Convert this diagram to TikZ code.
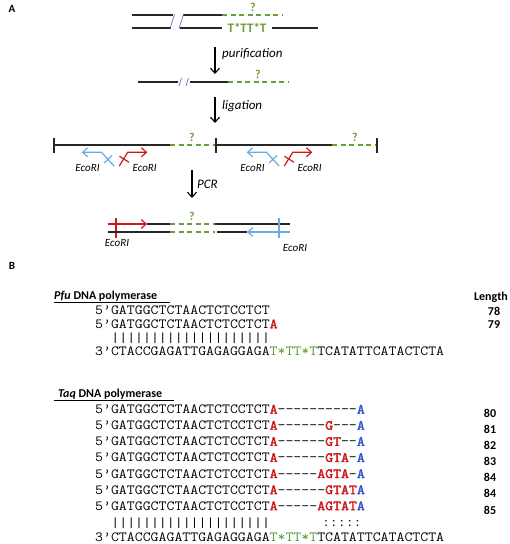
\documentclass[tikz,border=0pt]{standalone}
\usepackage{fontspec}
\setmainfont{Carlito}
\setmonofont{Latin Modern Mono}[FakeStretch=1.1, BoldFont={Latin Modern Mono}, BoldFeatures={FakeBold=2.5}]
\usetikzlibrary{arrows.meta}
\definecolor{qgreen}{HTML}{6A9E3A}
\definecolor{sgreen}{HTML}{4E9A2E}
\definecolor{pred}{HTML}{D01818}
\definecolor{lblue}{HTML}{6AAAE6}
\definecolor{dblue}{HTML}{2F55C8}
\definecolor{brk}{HTML}{5577BB}
\newcommand{\seqR}[1]{\textcolor{pred}{\bfseries #1}}
\newcommand{\seqB}[1]{\textcolor{dblue}{\bfseries #1}}
\newcommand{\seqG}[1]{\textcolor{sgreen}{#1}}
\tikzset{
 strand/.style={line width=1.3pt, draw=black!85},
 unk/.style={line width=1.3pt, draw=qgreen, dash pattern=on 5pt off 3.5pt},
 brkline/.style={line width=0.7pt, draw=brk},
 steparrow/.style={line width=1.1pt, -{Straight Barb[length=5pt,width=9pt]}},
 redprimer/.style={line width=1.2pt, draw=pred},
 blueprimer/.style={line width=1.2pt, draw=lblue},
 primertip/.style={-{Straight Barb[length=5pt,width=9pt]}},
 endtick/.style={line width=1.3pt, draw=black!85},
 steplab/.style={font=\fontsize{13}{13}\selectfont\itshape, anchor=west, inner sep=0pt},
 qm/.style={font=\fontsize{12}{12}\selectfont\bfseries, text=qgreen, inner sep=0pt},
 tts/.style={font=\fontsize{13}{13}\selectfont\bfseries, text=qgreen, inner sep=0pt},
 eco/.style={font=\fontsize{11}{11}\selectfont\itshape, inner sep=0pt},
 seqrow/.style={font=\fontsize{14}{14}\selectfont\ttfamily, anchor=base west, inner sep=0pt},
 num/.style={font=\fontsize{12}{12}\selectfont\bfseries, inner sep=0pt},
 panel/.style={font=\fontsize{11}{11}\selectfont\bfseries, inner sep=0pt},
 titletext/.style={font=\fontsize{12}{12}\selectfont\bfseries, anchor=west, inner sep=0pt},
}
\begin{document}
\begin{tikzpicture}[x=1pt,y=-1pt]
\fill[white] (0,0) rectangle (510,544);
\useasboundingbox (0,0) rectangle (510,544);

\node[panel] (pA) at (12,9) {A};
\node[panel] (pB) at (12,266) {B};

% ---------- step 1: double strand
\coordinate (t1a) at (132,15); \coordinate (t1b) at (173,15);
\coordinate (t1c) at (183,15); \coordinate (t1d) at (222,15);
\coordinate (t1e) at (282,15);
\coordinate (b1a) at (132,28); \coordinate (b1b) at (171,28);
\coordinate (b1c) at (180,28); \coordinate (b1d) at (222,28);
\coordinate (b1e) at (272,28); \coordinate (b1f) at (318,28);
\draw[strand] (t1a)--(t1b) (t1c)--(t1d) (b1a)--(b1b) (b1c)--(b1d) (b1e)--(b1f);
\draw[unk] (t1d)--(t1e);
\coordinate (s1a) at (170,28.5); \coordinate (s1b) at (174.5,14.5);
\coordinate (s2a) at (179,28.5); \coordinate (s2b) at (183.5,14.5);
\draw[brkline] (s1a)--(s1b) (s2a)--(s2b);
\node[qm] (q1) at (253,7) {?};
\node[tts] (tt1) at (247,28) {T*TT*T};

% purification arrow
\coordinate (a1s) at (215,47); \coordinate (a1e) at (215,74);
\draw[steparrow] (a1s)--(a1e);
\node[steplab] (l1) at (222,54) {purification};

% ---------- step 2: single strand
\coordinate (u2a) at (138,82); \coordinate (u2b) at (178,82);
\coordinate (u2c) at (190,82); \coordinate (u2d) at (228,82);
\coordinate (u2e) at (288,82);
\draw[strand] (u2a)--(u2b) (u2c)--(u2d);
\draw[unk] (u2d)--(u2e);
\coordinate (s3a) at (179,86); \coordinate (s3b) at (181.5,78);
\coordinate (s4a) at (186,86); \coordinate (s4b) at (188.5,78);
\draw[brkline] (s3a)--(s3b) (s4a)--(s4b);
\node[qm] (q2) at (258,74.5) {?};

% ligation arrow
\coordinate (a2s) at (215,97); \coordinate (a2e) at (215,123);
\draw[steparrow] (a2s)--(a2e);
\node[steplab] (l2) at (222,106) {ligation};

% ---------- step 3: ligated product
\coordinate (c1) at (54,145); \coordinate (c2) at (170,145);
\coordinate (c3) at (216,145); \coordinate (c4) at (332,145);
\coordinate (c5) at (377,145);
\draw[strand] (c1)--(c2) (c3)--(c4);
\draw[unk] (c2)--(c3) (c4)--(c5);
\foreach \xx/\k in {54/1,216/2,377/3}{
  \coordinate (tk\k a) at (\xx,138); \coordinate (tk\k b) at (\xx,152.5);
  \draw[endtick] (tk\k a)--(tk\k b);
}
\node[qm] (q3) at (192,137) {?};
\node[qm] (q4) at (355,137) {?};

\foreach \dx/\k in {0/1,165/2}{
  \coordinate (bs\k) at (114+\dx,166); \coordinate (bm\k) at (101.5+\dx,152.3);
  \coordinate (bt\k) at (81.7+\dx,152.3);
  \draw[blueprimer, primertip] (bs\k)--(bm\k)--(bt\k);
  \coordinate (bx\k a) at (104+\dx,163); \coordinate (bx\k b) at (112+\dx,155.5);
  \draw[blueprimer] (bx\k a)--(bx\k b);
  \coordinate (rs\k) at (119.3+\dx,166); \coordinate (rm\k) at (127.7+\dx,152.3);
  \coordinate (rt\k) at (147.3+\dx,152.3);
  \draw[redprimer, primertip] (rs\k)--(rm\k)--(rt\k);
  \coordinate (rx\k a) at (119.5+\dx,156.3); \coordinate (rx\k b) at (129+\dx,162.3);
  \draw[redprimer] (rx\k a)--(rx\k b);
  \node[eco] (el\k) at (87.5+\dx,168) {EcoRI};
  \node[eco] (er\k) at (144.7+\dx,168) {EcoRI};
}

% PCR arrow
\coordinate (a3s) at (192,170); \coordinate (a3e) at (192,198);
\draw[steparrow] (a3s)--(a3e);
\node[steplab] (l3) at (197,184) {PCR};

% ---------- step 4: PCR product
\coordinate (p1) at (108,224); \coordinate (p2) at (147,224);
\coordinate (p3) at (170,224); \coordinate (p4) at (215,224);
\coordinate (p5) at (290,224);
\draw[strand] (p2)--(p3) (p4)--(p5);
\draw[unk] (p3)--(p4);
\draw[redprimer, primertip] (p1)--(p2);
\coordinate (rk1) at (116,218); \coordinate (rk2) at (116,237.5);
\draw[redprimer] (rk1)--(rk2);
\coordinate (r1) at (108,232); \coordinate (r2) at (170,232);
\coordinate (r3) at (215,232); \coordinate (r4) at (217,232);
\coordinate (r5) at (247,232); \coordinate (r6) at (290,232);
\draw[strand] (r1)--(r2) (r4)--(r5);
\draw[unk] (r2)--(r3);
\draw[blueprimer, primertip] (r6)--(r5);
\coordinate (bk1) at (279,217.5); \coordinate (bk2) at (279,237.5);
\draw[blueprimer] (bk1)--(bk2);
\node[qm] (q5) at (192,216.5) {?};
\node[eco] (el3) at (117,243) {EcoRI};
\node[eco] (er3) at (295,248) {EcoRI};

% ---------- panel B: Pfu
\node[titletext] (tpfu) at (54,296) {\textit{Pfu} DNA polymerase};
\coordinate (up1) at (54,302); \coordinate (up2) at (170,302);
\draw[line width=0.8pt] (up1)--(up2);
\node[num] (len) at (491,297) {Length};
\node[seqrow] (pf1) at (95,314.3) {5’GATGGCTCTAACTCTCCTCT};
\node[seqrow] (pf2) at (95,328.3) {5’GATGGCTCTAACTCTCCTCT\seqR{A}};
\node[seqrow] (pfb) at (111.2,342) {||||||||||||||||||||};
\node[seqrow] (pf3) at (95,355.3) {3’CTACCGAGATTGAGAGGAGA\seqG{T*TT*T}TCATATTCATACTCTA};
\node[num] (n78) at (494,311) {78};
\node[num] (n79) at (494,325) {79};

% ---------- panel B: Taq
\node[titletext] (ttaq) at (58,394) {\textit{Taq} DNA polymerase};
\coordinate (ut1) at (54,400); \coordinate (ut2) at (174,400);
\draw[line width=0.8pt] (ut1)--(ut2);
\node[seqrow] (tq1) at (95,413.6) {5’GATGGCTCTAACTCTCCTCT\seqR{A}----------\seqB{A}};
\node[seqrow] (tq2) at (95,429.7) {5’GATGGCTCTAACTCTCCTCT\seqR{A}------\seqR{G}---\seqB{A}};
\node[seqrow] (tq3) at (95,445.8) {5’GATGGCTCTAACTCTCCTCT\seqR{A}------\seqR{GT}--\seqB{A}};
\node[seqrow] (tq4) at (95,461.9) {5’GATGGCTCTAACTCTCCTCT\seqR{A}------\seqR{GTA}-\seqB{A}};
\node[seqrow] (tq5) at (95,478.0) {5’GATGGCTCTAACTCTCCTCT\seqR{A}-----\seqR{AGTA}-\seqB{A}};
\node[seqrow] (tq6) at (95,494.1) {5’GATGGCTCTAACTCTCCTCT\seqR{A}------\seqR{GTAT}\seqB{A}};
\node[seqrow] (tq7) at (95,510.2) {5’GATGGCTCTAACTCTCCTCT\seqR{A}-----\seqR{AGTAT}\seqB{A}};
\node[seqrow] (tqb) at (111.2,527) {||||||||||||||||||||};
\node[seqrow] (tqc) at (321.8,526) {:::::};
\node[seqrow] (tq8) at (95,541) {3’CTACCGAGATTGAGAGGAGA\seqG{T*TT*T}TCATATTCATACTCTA};
\node[num] (n80) at (490,413.3) {80};
\node[num] (n81) at (490,429.4) {81};
\node[num] (n82) at (490,445.5) {82};
\node[num] (n83) at (490,461.6) {83};
\node[num] (n84a) at (490,477.7) {84};
\node[num] (n84b) at (490,493.8) {84};
\node[num] (n85) at (490,509.9) {85};
\end{tikzpicture}
\end{document}
